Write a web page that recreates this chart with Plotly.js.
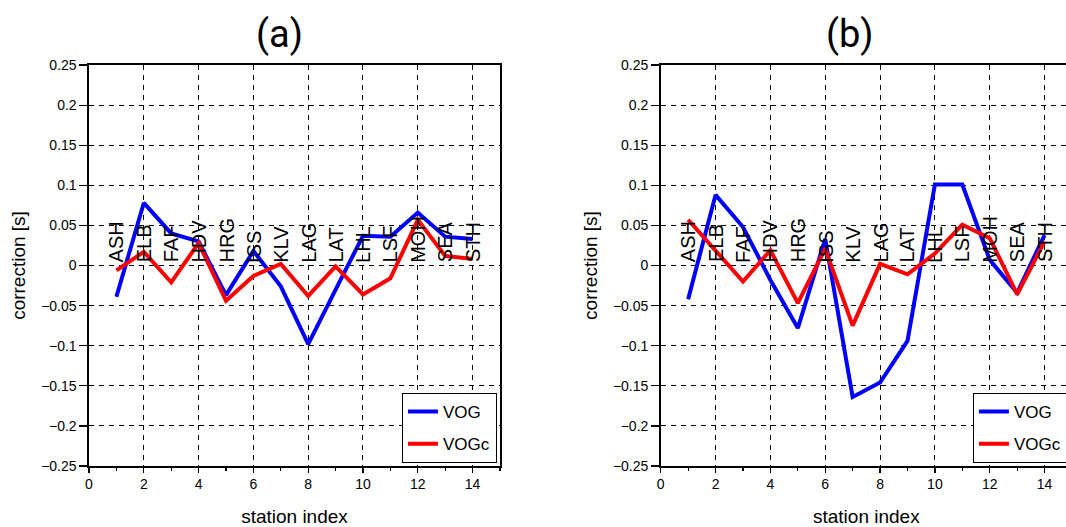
<!DOCTYPE html>
<html>
<head>
<meta charset="utf-8">
<script src="https://cdn.plot.ly/plotly-3.0.1.min.js"></script>
<style>
  html, body { margin: 0; padding: 0; overflow: hidden; background: #fff; }
  #chart { width: 1080px; height: 527px; }
</style>
</head>
<body>
<div id="chart"></div>
<script>
// ---- data ----
const stations = ['ASH','ELB','FAF','HDV','HRG','ISS','KLV','LAG','LAT','LHL','LSF','MOH','SEA','STH'];
const stationIndex = [1,2,3,4,5,6,7,8,9,10,11,12,13,14];
const vogA  = [-0.039, 0.078, 0.040, 0.030, -0.037, 0.018, -0.026, -0.098, -0.030, 0.037, 0.036, 0.066, 0.036, 0.033];
const vogcA = [-0.006, 0.017, -0.021, 0.028, -0.044, -0.013, 0.002, -0.038, -0.001, -0.036, -0.016, 0.057, 0.012, 0.008];
const vogB  = [-0.042, 0.088, 0.048, -0.018, -0.078, 0.033, -0.164, -0.146, -0.094, 0.101, 0.101, 0.007, -0.034, 0.038];
const vogcB = [0.057, 0.019, -0.020, 0.019, -0.047, 0.021, -0.075, 0.002, -0.011, 0.015, 0.051, 0.034, -0.036, 0.030];
const panelTitles = ['(a)', '(b)'];
const seriesNames = ['VOG', 'VOGc'];

const BLUE = '#0000ff', RED = '#ff0000';
const SANS = 'Liberation Sans, Arial, sans-serif';

const traces = [
  {x: stationIndex, y: vogA,  xaxis: 'x',  yaxis: 'y',  name: seriesNames[0], mode: 'lines', line: {color: BLUE, width: 4}, legend: 'legend',  legendgroup: 'a1'},
  {x: stationIndex, y: vogcA, xaxis: 'x',  yaxis: 'y',  name: seriesNames[1], mode: 'lines', line: {color: RED,  width: 4}, legend: 'legend',  legendgroup: 'a2'},
  {x: stationIndex, y: vogB,  xaxis: 'x2', yaxis: 'y2', name: seriesNames[0], mode: 'lines', line: {color: BLUE, width: 4}, legend: 'legend2', legendgroup: 'b1'},
  {x: stationIndex, y: vogcB, xaxis: 'x2', yaxis: 'y2', name: seriesNames[1], mode: 'lines', line: {color: RED,  width: 4}, legend: 'legend2', legendgroup: 'b2'}
];

function xAxis(domain, anchor) {
  return {
    domain: domain, anchor: anchor, range: [0, 15], tick0: 0, dtick: 2,
    ticks: 'outside', ticklen: 5, tickcolor: '#000', tickwidth: 1.2,
    minor: {dtick: 1, ticks: 'outside', ticklen: 3, tickcolor: '#000', showgrid: false},
    showgrid: true, gridcolor: '#000', gridwidth: 1, griddash: '5px,5px',
    showline: true, mirror: true, linecolor: '#000', linewidth: 1.6, zeroline: false,
    tickfont: {family: SANS, size: 14, color: '#000'},
    title: {text: 'station index', font: {family: SANS, size: 19, color: '#000'}, standoff: 18}
  };
}
function yAxis(anchor) {
  return {
    domain: [0, 1], anchor: anchor, range: [-0.25, 0.25], tick0: 0, dtick: 0.05,
    ticks: 'outside', ticklen: 8, tickcolor: '#000', tickwidth: 1.2,
    showgrid: true, gridcolor: '#000', gridwidth: 1, griddash: '5px,5px',
    showline: true, mirror: true, linecolor: '#000', linewidth: 1.6, zeroline: false,
    tickfont: {family: SANS, size: 14, color: '#000'},
    title: {text: 'correction [s]', font: {family: SANS, size: 19, color: '#000'}, standoff: 10}
  };
}

const annotations = [];
[['x', 'y'], ['x2', 'y2']].forEach(function (ax) {
  stations.forEach(function (s, i) {
    annotations.push({
      x: stationIndex[i], y: 0, xref: ax[0], yref: ax[1],
      text: s, showarrow: false, textangle: -90,
      xanchor: 'center', yanchor: 'bottom', yshift: 1,
      font: {family: SANS, size: 20, color: '#000'}
    });
  });
});
annotations.push({text: panelTitles[0], xref: 'paper', yref: 'paper', x: 0.1943, y: 1.078, showarrow: false,
  xanchor: 'center', yanchor: 'middle', font: {family: 'Roboto, sans-serif', size: 38, color: '#000'}});
annotations.push({text: panelTitles[1], xref: 'paper', yref: 'paper', x: 0.7742, y: 1.078, showarrow: false,
  xanchor: 'center', yanchor: 'middle', font: {family: 'Roboto, sans-serif', size: 38, color: '#000'}});

const legendStyle = {
  bgcolor: '#fff', bordercolor: '#000', borderwidth: 1.2,
  font: {family: SANS, size: 17, color: '#000'},
  tracegroupgap: 7, traceorder: 'grouped', yanchor: 'bottom', y: 0.008
};

const layout = {
  width: 1080, height: 527,
  margin: {l: 89, r: 8, t: 65, b: 61},
  paper_bgcolor: '#fff', plot_bgcolor: '#fff',
  showlegend: true,
  xaxis: xAxis([0, 0.4181], 'y'),
  yaxis: yAxis('x'),
  xaxis2: xAxis([0.5816, 1], 'y2'),
  yaxis2: yAxis('x2'),
  legend: Object.assign({}, legendStyle, {x: 0.4148, xanchor: 'right'}),
  legend2: Object.assign({}, legendStyle, {x: 0.899, xanchor: 'left'}),
  annotations: annotations
};

Plotly.newPlot('chart', traces, layout, {displayModeBar: false, staticPlot: true});
</script>
</body>
</html>
